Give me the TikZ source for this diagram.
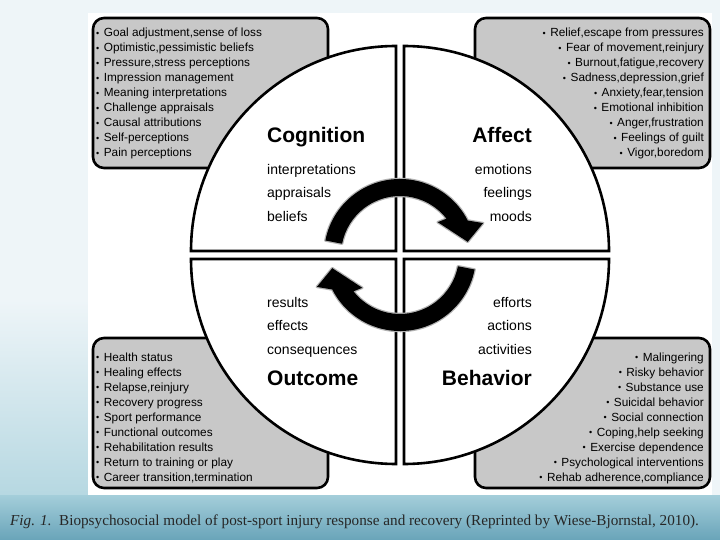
\documentclass[tikz,border=0pt]{standalone}
\usepackage{fontspec}
\setmainfont{Liberation Serif}
\setsansfont{Liberation Sans}
\usetikzlibrary{calc}

\definecolor{boxgray}{HTML}{C8C8C8}
\definecolor{slidebg}{HTML}{EEF5F8}
\definecolor{bandtop}{HTML}{A4CEDA}
\definecolor{bandbot}{HTML}{69A4B9}

\newcommand{\blt}{\raisebox{0.4pt}{\fontsize{9}{9}\selectfont\textbullet}\hspace{4.5pt}}

\tikzset{
  listbox/.style={draw=black, line width=2.6pt, fill=boxgray, rounded corners=11pt},
  quad/.style={draw=black, line width=2.6pt, fill=white},
  item/.style={font=\sffamily\fontsize{11.8}{13}\selectfont, inner sep=0pt},
  title/.style={font=\sffamily\bfseries\fontsize{21}{25}\selectfont, inner sep=0pt},
  word/.style={font=\sffamily\fontsize{14}{16}\selectfont, inner sep=0pt},
  cyclearrow/.style={fill=black, preaction={draw=black!30, line width=2.5pt, line join=round}}
}

\begin{document}
\begin{tikzpicture}[x=1pt, y=-1pt]
  \useasboundingbox (0,0) rectangle (720,540);
  % Slide background
  \fill[slidebg] (0,0) rectangle (720,540);
  \shade[top color=slidebg, bottom color=bandtop!80] (0,300) rectangle (88,495);
  \shade[top color=bandtop, bottom color=bandbot] (0,495) rectangle (720,540);
  \fill[white] (88,13) rectangle (712,495);

  % Grey boxes
  \draw[listbox] (93,18) rectangle (328,168);
  \draw[listbox] (475,18) rectangle (710,168);
  \draw[listbox] (93,338) rectangle (328,488);
  \draw[listbox] (475,338) rectangle (710,488);

  % Quadrants
  \coordinate (tl) at (396,251);
  \coordinate (tr) at (404,251);
  \coordinate (bl) at (396,259);
  \coordinate (br) at (404,259);
  \coordinate (c) at (400,255);
  \draw[quad] (tl) -- ++(-205,0) arc[start angle=180, end angle=270, radius=205] -- cycle;
  \draw[quad] (tr) -- ++(0,-205) arc[start angle=270, end angle=360, radius=205] -- cycle;
  \draw[quad] (br) -- ++(205,0) arc[start angle=0, end angle=90, radius=205] -- cycle;
  \draw[quad] (bl) -- ++(0,205) arc[start angle=90, end angle=180, radius=205] -- cycle;

  % Cycle arrows
  \foreach \a in {0,180} {
    \path[cyclearrow, shift={(c)}, rotate=\a]
      (191:76) arc[start angle=191, end angle=333, radius=76]
      -- (339:89) -- (349:69) -- (319:50) -- (322:59)
      arc[start angle=322, end angle=191, radius=59] -- cycle;
  }

  % Quadrant titles and words
  \node[title, anchor=base west] (cognition) at (267,142.5) {Cognition};
  \node[title, anchor=base east] (affect) at (532,142.5) {Affect};
  \node[title, anchor=base west] (outcome) at (267,385.5) {Outcome};
  \node[title, anchor=base east] (behavior) at (532,385.5) {Behavior};
  \foreach \t [count=\i] in {interpretations, appraisals, beliefs}
    \node[word, anchor=base west] (cw\i) at (267,151+23.5*\i) {\t};
  \foreach \t [count=\i] in {emotions, feelings, moods}
    \node[word, anchor=base east] (aw\i) at (532,151+23.5*\i) {\t};
  \foreach \t [count=\i] in {results, effects, consequences}
    \node[word, anchor=base west] (ow\i) at (267,283.5+23.5*\i) {\t};
  \foreach \t [count=\i] in {efforts, actions, activities}
    \node[word, anchor=base east] (bw\i) at (532,283.5+23.5*\i) {\t};

  % Lists
  \foreach \t [count=\i] in {{Goal adjustment,sense of loss}, {Optimistic,pessimistic beliefs},
      {Pressure,stress perceptions}, {Impression management}, {Meaning interpretations},
      {Challenge appraisals}, {Causal attributions}, {Self-perceptions}, {Pain perceptions}}
    \node[item, anchor=base west] (cl\i) at (96,22+15*\i) {\blt\t};
  \foreach \t [count=\i] in {{Relief,escape from pressures}, {Fear of movement,reinjury},
      {Burnout,fatigue,recovery}, {Sadness,depression,grief}, {Anxiety,fear,tension},
      {Emotional inhibition}, {Anger,frustration}, {Feelings of guilt}, {Vigor,boredom}}
    \node[item, anchor=base east] (al\i) at (704,22+15*\i) {\blt\t};
  \foreach \t [count=\i] in {{Health status}, {Healing effects}, {Relapse,reinjury},
      {Recovery progress}, {Sport performance}, {Functional outcomes},
      {Rehabilitation results}, {Return to training or play}, {Career transition,termination}}
    \node[item, anchor=base west] (ol\i) at (96,346+15*\i) {\blt\t};
  \foreach \t [count=\i] in {{Malingering}, {Risky behavior}, {Substance use},
      {Suicidal behavior}, {Social connection}, {Coping,help seeking},
      {Exercise dependence}, {Psychological interventions}, {Rehab adherence,compliance}}
    \node[item, anchor=base east] (bl\i) at (704,346+15*\i) {\blt\t};

  % Caption
  \node[anchor=base west, inner sep=0pt, text=black!85, font=\fontsize{15.2}{16}\selectfont]
    (caption) at (10,525) {\textit{Fig. 1.}\ \ Biopsychosocial model of post-sport injury response and recovery (Reprinted by Wiese-Bjornstal, 2010).};
\end{tikzpicture}
\end{document}
